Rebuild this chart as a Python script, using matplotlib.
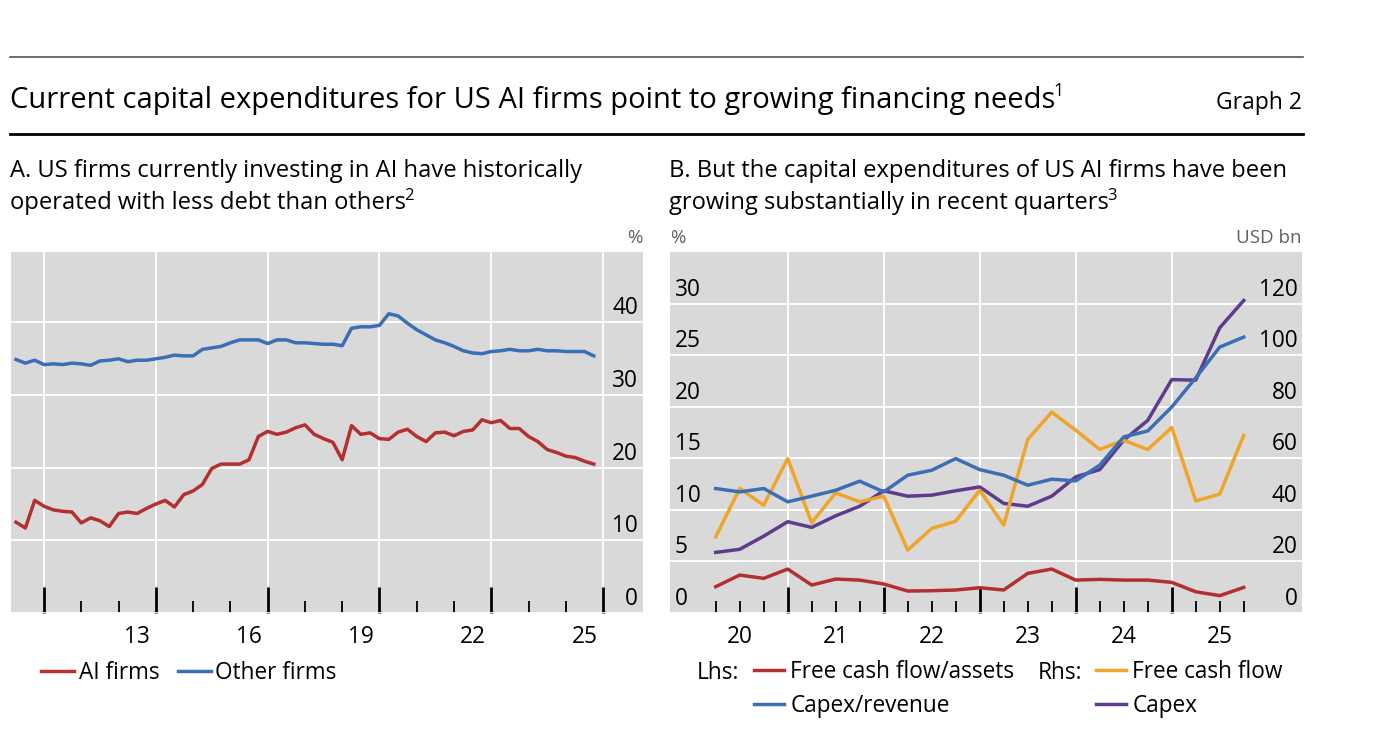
import numpy as np
import pandas as pd
import matplotlib.pyplot as plt
import matplotlib.transforms as mtransforms
from matplotlib.lines import Line2D

plt.rcParams['font.family'] = ['Open Sans', 'DejaVu Sans']

# Panel A: leverage, quarterly 2010Q1-2025Q3 (%)
ai_firms = [12.5, 11.7, 15.5, 14.7, 14.2, 14.0, 13.9, 12.4, 13.1, 12.7,
            11.9, 13.7, 13.9, 13.7, 14.4, 15.0, 15.5, 14.6, 16.3, 16.8,
            17.7, 19.9, 20.5, 20.5, 20.5, 21.1, 24.3, 25.0, 24.6, 24.9,
            25.5, 25.9, 24.6, 24.0, 23.5, 21.1, 25.8, 24.6, 24.8, 24.0,
            23.9, 24.9, 25.3, 24.3, 23.6, 24.8, 24.9, 24.4, 25.0, 25.2,
            26.6, 26.2, 26.5, 25.4, 25.4, 24.3, 23.6, 22.5, 22.1, 21.6,
            21.4, 20.9, 20.5]
other_firms = [34.9, 34.4, 34.8, 34.2, 34.3, 34.2, 34.4, 34.3, 34.1, 34.7,
               34.8, 35.0, 34.6, 34.8, 34.8, 35.0, 35.2, 35.5, 35.4, 35.4,
               36.3, 36.5, 36.7, 37.2, 37.6, 37.6, 37.6, 37.1, 37.6, 37.6,
               37.2, 37.2, 37.1, 37.0, 37.0, 36.8, 39.2, 39.4, 39.4, 39.6,
               41.2, 40.9, 39.9, 39.0, 38.3, 37.6, 37.2, 36.7, 36.1, 35.8,
               35.7, 36.0, 36.1, 36.3, 36.1, 36.1, 36.3, 36.1, 36.1, 36.0,
               36.0, 36.0, 35.4]
q_a = pd.period_range('2010Q1', '2025Q3', freq='Q')

# Panel B: quarterly 2020Q1-2025Q3
fcf_assets = [2.55, 3.68, 3.36, 4.26, 2.71, 3.29, 3.19, 2.81, 2.13, 2.16,
              2.23, 2.45, 2.23, 3.84, 4.26, 3.19, 3.26, 3.19, 3.19, 2.97,
              2.06, 1.68, 2.48]
capex_revenue = [12.07, 11.74, 12.07, 10.78, 11.33, 11.9, 12.78, 11.74, 13.36,
                 13.84, 14.97, 13.9, 13.36, 12.39, 12.97, 12.81, 14.33, 17.07,
                 17.65, 19.97, 22.8, 25.78, 26.75]
free_cash_flow = [29.5, 48.3, 41.8, 59.9, 35.0, 46.6, 43.1, 45.3, 24.4, 32.8,
                  35.6, 47.6, 34.1, 67.3, 77.9, 70.9, 63.4, 67.0, 63.4, 71.9,
                  43.5, 46.1, 68.9]
capex = [23.5, 24.7, 29.8, 35.4, 33.2, 37.7, 41.4, 47.4, 45.3, 45.7, 47.4,
         48.9, 42.5, 41.4, 45.3, 52.8, 55.6, 67.0, 74.7, 90.5, 90.3, 110.6,
         121.2]
q_b = pd.period_range('2020Q1', '2025Q3', freq='Q')

yticks_a = [0, 10, 20, 30, 40]
yticks_b_l = [0, 5, 10, 15, 20, 25, 30]
yticks_b_r = [0, 20, 40, 60, 80, 100, 120]
years_a = [2013, 2016, 2019, 2022, 2025]
years_b = [2020, 2021, 2022, 2023, 2024, 2025]

RED, BLUE, YEL, PUR = '#b3302f', '#3a6fb5', '#f0a42a', '#5f3b8c'
BG = '#d9d9d9'
GREY_TXT = '#606060'
LW = 2.5
FS_TICK = 16.3
FS_LEG = 16.3
FS_PANEL = 17.1

W, H = 1400, 741
fig = plt.figure(figsize=(14, 7.41), dpi=100)


def fx(px):
    return px / W


def fy(py):
    return 1 - py / H


def qx(periods):
    # position each quarter at its end
    return np.array([p.year + p.quarter / 4 for p in periods])


def style(ax):
    ax.set_facecolor(BG)
    for s in ax.spines.values():
        s.set_visible(False)
    ax.grid(True, which='major', color='white', lw=1.3)
    ax.set_axisbelow(True)
    ax.tick_params(axis='y', length=0, labelleft=False, labelright=False)
    ax.tick_params(axis='x', which='both', direction='in', labelbottom=False,
                   color='black')
    ax.tick_params(axis='x', which='major', length=19, width=2)
    ax.tick_params(axis='x', which='minor', length=9, width=1.3)


def ylabels(ax, ticks, xpos, ha):
    tr = mtransforms.offset_copy(ax.get_yaxis_transform(), fig=fig, y=8, units='dots')
    for t in ticks:
        ax.text(xpos, t, str(t), transform=tr, ha=ha, va='baseline', fontsize=FS_TICK)


def xlabels(ax, years):
    tr = mtransforms.offset_copy(ax.get_xaxis_transform(), fig=fig, y=-30, units='dots')
    for y in years:
        ax.text(y + 0.5, 0, str(y)[2:], transform=tr, ha='center', va='baseline',
                fontsize=FS_TICK)


# ---- header
fig.add_artist(Line2D([fx(10), fx(1303)], [fy(57), fy(57)], color='#555555', lw=1.2))
fig.add_artist(Line2D([fx(10), fx(1303)], [fy(134), fy(134)], color='black', lw=2))
title = fig.text(fx(10), fy(108), 'Current capital expenditures for US AI firms point to growing financing needs',
                 fontsize=21, va='baseline')
fig.text(fx(1302), fy(109), 'Graph 2', fontsize=16.5, ha='right', va='baseline')

renderer = fig.canvas.get_renderer()


def sup(txt, s, dy=9, size=12):
    bb = txt.get_window_extent(renderer)
    x0, y0 = txt.get_position()
    fig.text(bb.x1 / W - fx(1.5), y0 + dy / H, s, fontsize=size, va='baseline')


sup(title, '1', 12, 13)

ta1 = fig.text(fx(10), fy(177), 'A. US firms currently investing in AI have historically',
               fontsize=FS_PANEL, va='baseline')
ta2 = fig.text(fx(10), fy(209), 'operated with less debt than others', fontsize=FS_PANEL,
               va='baseline')
sup(ta2, '2')
tb1 = fig.text(fx(669), fy(177), 'B. But the capital expenditures of US AI firms have been',
               fontsize=FS_PANEL, va='baseline')
tb2 = fig.text(fx(669), fy(209), 'growing substantially in recent quarters', fontsize=FS_PANEL,
               va='baseline')
sup(tb2, '3')

# ---- panel A
axa = fig.add_axes([fx(11), fy(613), fx(632), 361 / H])
style(axa)
axa.plot(qx(q_a), ai_firms, color=RED, lw=LW, label='AI firms')
axa.plot(qx(q_a), other_firms, color=BLUE, lw=LW, label='Other firms')
axa.set_xlim(2010.115, 2027.07)
axa.set_ylim(0, 49.7)
axa.set_yticks(yticks_a)
axa.set_xticks(np.arange(2011, 2027, 3))
axa.set_xticks([y for y in range(2012, 2026) if (y - 2011) % 3], minor=True)
ylabels(axa, yticks_a, 0.992, 'right')
xlabels(axa, years_a)
fig.text(fx(643), fy(238), '%', fontsize=13.5, ha='right', va='center', color=GREY_TXT)
axa.legend(loc='center left', bbox_to_anchor=(fx(41), fy(673)), bbox_transform=fig.transFigure,
           ncol=2, frameon=False, fontsize=FS_LEG, handlelength=1.46, handletextpad=0.2,
           columnspacing=0.82, borderpad=0, borderaxespad=0)

# ---- panel B
axr = fig.add_axes([fx(670), fy(613), fx(632), 361 / H])
style(axr)
axl = axr.twinx()
axl.set_zorder(axr.get_zorder() + 1)
axl.patch.set_visible(False)
for s in axl.spines.values():
    s.set_visible(False)
axl.tick_params(axis='y', length=0, labelleft=False, labelright=False)

h_cap, = axr.plot(qx(q_b), capex, color=PUR, lw=LW, label='Capex')
h_fcf, = axr.plot(qx(q_b), free_cash_flow, color=YEL, lw=LW, label='Free cash flow')
h_cr, = axl.plot(qx(q_b), capex_revenue, color=BLUE, lw=LW, label='Capex/revenue')
h_fa, = axl.plot(qx(q_b), fcf_assets, color=RED, lw=LW, label='Free cash flow/assets')

axr.set_xlim(2019.774, 2026.357)
axr.set_ylim(0, 140)
axl.set_ylim(0, 35)
axr.set_yticks(yticks_b_r)
axr.set_xticks(range(2021, 2026))
axr.set_xticks([x for x in qx(q_b) if x % 1], minor=True)
ylabels(axl, yticks_b_l, 0.008, 'left')
ylabels(axr, yticks_b_r, 0.993, 'right')
xlabels(axr, years_b)
fig.text(fx(670), fy(238), '%', fontsize=13.5, ha='left', va='center', color=GREY_TXT)
fig.text(fx(1302), fy(238), 'USD bn', fontsize=13.5, ha='right', va='center', color=GREY_TXT)

fig.text(fx(697), fy(679), 'Lhs:', fontsize=FS_LEG, va='baseline')
fig.text(fx(1038), fy(679), 'Rhs:', fontsize=FS_LEG, va='baseline')
leg_kw = dict(loc='center left', bbox_transform=fig.transFigure, frameon=False,
              fontsize=FS_LEG, handlelength=1.33, handletextpad=0.27,
              labelspacing=0.46, borderpad=0, borderaxespad=0)
leg1 = axr.legend(handles=[h_fa, h_cr], bbox_to_anchor=(fx(754), fy(689)), **leg_kw)
axr.add_artist(leg1)
axr.legend(handles=[h_fcf, h_cap], bbox_to_anchor=(fx(1096), fy(689)), **leg_kw)

fig.savefig('out.png', dpi=100)
